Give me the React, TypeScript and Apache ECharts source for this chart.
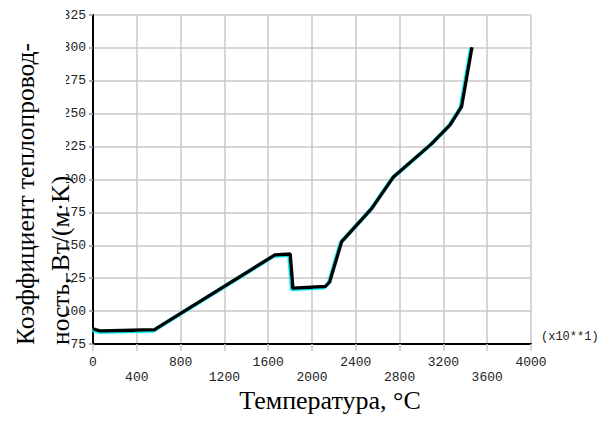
import React, { useEffect, useRef } from "react";
import * as echarts from "echarts";

const temperatures = [0, 70, 560, 1660, 1800, 1825, 2120, 2160, 2270, 2545, 2745, 3090, 3260, 3365, 3460];
const conductivity = [86.5, 84.8, 85.8, 142.6, 143.4, 117.3, 118.6, 122.0, 152.7, 178.0, 202.0, 227.0, 241.4, 255.3, 300.5];
const xTicks = [0, 400, 800, 1200, 1600, 2000, 2400, 2800, 3200, 3600, 4000];
const yTicks = [75, 100, 125, 150, 175, 200, 225, 250, 275, 300, 325];
const yTitleLines = ["Коэффициент теплопровод-", "ность, Вт/(м·K)"];
const xTitle = "Температура, °C";
const multiplierLabel = "(x10**1)";

export default function App() {
  const ref = useRef<HTMLDivElement>(null);
  useEffect(() => {
    if (!ref.current) return;
    const chart = echarts.init(ref.current, undefined, { renderer: "svg" });
    const mono = "'Liberation Mono', 'DejaVu Sans Mono', monospace";
    const serif = "'Liberation Serif', 'DejaVu Serif', serif";
    chart.setOption({
      animation: false,
      backgroundColor: "#ffffff",
      grid: { left: 93, top: 15, right: 80, bottom: 84, containLabel: false },
      xAxis: {
        type: "value",
        min: xTicks[0],
        max: xTicks[xTicks.length - 1],
        interval: 400,
        axisLine: { show: true, onZero: false, lineStyle: { color: "#000", width: 2 } },
        axisTick: { show: true, length: 7, lineStyle: { color: "#c8c8c8", width: 1.5 } },
        splitLine: { show: true, lineStyle: { color: "#c8c8c8", width: 1.5 } },
        axisLabel: {
          margin: 11,
          fontFamily: mono,
          fontSize: 13,
          color: "#222",
          lineHeight: 15,
          formatter: (v: number) => {
            const i = xTicks.indexOf(v);
            return i % 2 === 1 ? "\n" + v : String(v);
          },
        },
      },
      yAxis: {
        type: "value",
        min: yTicks[0],
        max: yTicks[yTicks.length - 1],
        interval: 25,
        axisLine: { show: true, onZero: false, lineStyle: { color: "#000", width: 2 } },
        axisTick: { show: true, length: 4, lineStyle: { color: "#999", width: 1.5 } },
        splitLine: { show: true, lineStyle: { color: "#c8c8c8", width: 1.5 } },
        axisLabel: { margin: 7, fontFamily: mono, fontSize: 13, color: "#222" },
      },
      series: [
        {
          type: "line",
          data: temperatures.map((t, i) => [t, conductivity[i]]),
          showSymbol: false,
          symbol: "none",
          lineStyle: {
            color: "#000",
            width: 3.5,
            shadowColor: "#00e5ee",
            shadowBlur: 0,
            shadowOffsetX: -1.2,
            shadowOffsetY: 1.2,
          },
          z: 5,
        },
      ],
      graphic: [
        {
          type: "rect",
          left: 0,
          top: 0,
          shape: { x: 0, y: 0, width: 66, height: 352 },
          style: { fill: "#ffffff" },
          z: 50,
        },
        {
          type: "text",
          x: 38,
          y: 345,
          rotation: Math.PI / 2,
          style: {
            text: yTitleLines[0],
            fontFamily: serif,
            fontSize: 25.5,
            fill: "#000",
            textAlign: "left",
            textVerticalAlign: "bottom",
          },
          z: 60,
        },
        {
          type: "text",
          x: 73,
          y: 345,
          rotation: Math.PI / 2,
          style: {
            text: yTitleLines[1],
            fontFamily: serif,
            fontSize: 25.5,
            fill: "#000",
            textAlign: "left",
            textVerticalAlign: "bottom",
          },
          z: 60,
        },
        {
          type: "text",
          x: 330,
          y: 400,
          style: {
            text: xTitle,
            fontFamily: serif,
            fontSize: 26,
            lineHeight: 22,
            fill: "#000",
            textAlign: "center",
            textVerticalAlign: "middle",
          },
          z: 60,
        },
        {
          type: "text",
          x: 541,
          y: 337,
          style: {
            text: multiplierLabel,
            fontFamily: mono,
            fontSize: 12,
            fill: "#222",
            textAlign: "left",
            textVerticalAlign: "middle",
          },
          z: 60,
        },
      ],
    });
    return () => chart.dispose();
  }, []);
  return (
    <div
      ref={ref}
      style={{ position: "fixed", left: 0, top: 0, width: 611, height: 428, background: "#fff" }}
    />
  );
}
